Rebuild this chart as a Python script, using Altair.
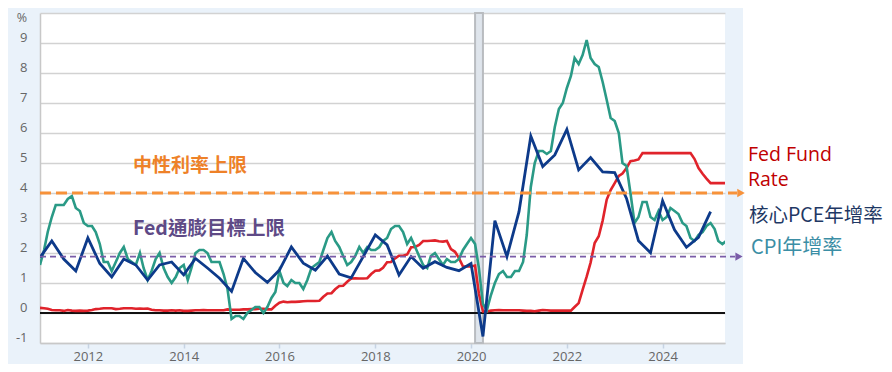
import altair as alt
import pandas as pd

# ---------------- data ----------------
month_start = "2011-01-01"
month_end = "2025-05-01"

cpi_yoy = [
    1.6, 2.1, 2.7, 3.2, 3.6, 3.6, 3.6, 3.8, 3.9, 3.5, 3.4, 3.0,
    2.9, 2.9, 2.7, 2.3, 1.7, 1.7, 1.4, 1.7, 2.0, 2.2, 1.8, 1.7,
    1.6, 2.0, 1.5, 1.1, 1.4, 1.8, 2.0, 1.5, 1.2, 1.0, 1.2, 1.5,
    1.6, 1.1, 1.5, 2.0, 2.1, 2.1, 2.0, 1.7, 1.7, 1.7, 1.3, 0.8,
    -0.2, -0.1, -0.1, -0.2, 0.0, 0.1, 0.2, 0.2, 0.0, 0.2, 0.5, 0.7,
    1.4, 1.0, 0.9, 1.1, 1.0, 1.0, 0.8, 1.1, 1.5, 1.6, 1.7, 2.1,
    2.5, 2.7, 2.4, 2.2, 1.9, 1.6, 1.7, 1.9, 2.2, 2.0, 2.2, 2.1,
    2.1, 2.2, 2.4, 2.5, 2.8, 2.9, 2.9, 2.7, 2.3, 2.5, 2.2, 1.9,
    1.6, 1.5, 1.9, 2.0, 1.8, 1.6, 1.8, 1.7, 1.7, 1.8, 2.1, 2.3,
    2.5, 2.3, 1.5, 0.3, 0.1, 0.6, 1.0, 1.3, 1.4, 1.2, 1.2, 1.4,
    1.4, 1.7, 2.6, 4.2, 5.0, 5.4, 5.4, 5.3, 5.4, 6.2, 6.8, 7.0,
    7.5, 7.9, 8.5, 8.3, 8.6, 9.1, 8.5, 8.3, 8.2, 7.7, 7.1, 6.5,
    6.4, 6.0, 5.0, 4.9, 4.0, 3.0, 3.2, 3.7, 3.7, 3.2, 3.1, 3.4,
    3.1, 3.2, 3.5, 3.4, 3.3, 3.0, 2.9, 2.5, 2.4, 2.6, 2.7, 2.9,
    3.0, 2.8, 2.4, 2.3, 2.4,
]

fed_funds = [
    0.17, 0.16, 0.14, 0.10, 0.09, 0.09, 0.07, 0.10, 0.08, 0.07, 0.08, 0.07,
    0.08, 0.10, 0.13, 0.14, 0.16, 0.16, 0.16, 0.13, 0.14, 0.16, 0.16, 0.16,
    0.14, 0.15, 0.14, 0.15, 0.11, 0.09, 0.09, 0.08, 0.08, 0.09, 0.08, 0.09,
    0.07, 0.07, 0.08, 0.09, 0.09, 0.10, 0.09, 0.09, 0.09, 0.09, 0.09, 0.12,
    0.11, 0.11, 0.11, 0.12, 0.12, 0.13, 0.13, 0.14, 0.14, 0.12, 0.12, 0.24,
    0.34, 0.38, 0.36, 0.37, 0.37, 0.38, 0.39, 0.40, 0.40, 0.40, 0.41, 0.54,
    0.65, 0.66, 0.79, 0.90, 0.91, 1.04, 1.15, 1.16, 1.15, 1.15, 1.16, 1.30,
    1.41, 1.42, 1.51, 1.69, 1.70, 1.82, 1.91, 1.91, 1.95, 2.19, 2.20, 2.27,
    2.40, 2.40, 2.41, 2.42, 2.39, 2.38, 2.40, 2.13, 2.04, 1.83, 1.55, 1.55,
    1.55, 1.58, 0.65, 0.05, 0.05, 0.08, 0.09, 0.10, 0.09, 0.09, 0.09, 0.09,
    0.09, 0.08, 0.07, 0.07, 0.06, 0.08, 0.10, 0.09, 0.08, 0.08, 0.08, 0.08,
    0.08, 0.08, 0.20, 0.33, 0.77, 1.21, 1.68, 2.33, 2.56, 3.08, 3.78, 4.10,
    4.33, 4.57, 4.65, 4.83, 5.06, 5.08, 5.12, 5.33, 5.33, 5.33, 5.33, 5.33,
    5.33, 5.33, 5.33, 5.33, 5.33, 5.33, 5.33, 5.33, 5.13, 4.83, 4.64, 4.48,
    4.33, 4.33, 4.33, 4.33, 4.33,
]

quarter_start = "2011-01-01"
quarter_end = "2025-01-01"
core_pce = [
    1.85, 2.4, 1.8, 1.4,
    2.5, 1.65, 1.2, 1.8,
    1.6, 1.1, 1.6, 1.7,
    1.27, 1.82, 1.5, 1.16,
    0.72, 1.82, 1.35, 1.02,
    1.43, 2.2, 1.66, 1.43,
    1.9, 1.3, 1.17, 1.88,
    2.6, 2.27, 1.27, 1.88,
    1.49, 1.71, 1.52, 1.41,
    1.65, -0.78, 3.08, 1.88,
    3.38, 5.9, 4.88, 5.27,
    6.12, 4.77, 5.18, 4.7,
    4.68, 3.82, 2.41, 2.01,
    3.74, 2.77, 2.19, 2.52,
    3.38,
]

neutral_rate_cap = 4.0
inflation_target_line = 1.88
recession = ["2020-02-01", "2020-04-01"]
year_ticks = [2012, 2014, 2016, 2018, 2020, 2022, 2024]
y_ticks = list(range(-1, 11))

# ---------------- tables ----------------
months = pd.date_range(month_start, month_end, freq="MS").strftime("%Y-%m-%d")
monthly = pd.DataFrame({"date": months, "cpi": cpi_yoy, "ffr": fed_funds})
quarters = pd.date_range(quarter_start, quarter_end, freq="QS").strftime("%Y-%m-%d")
quarterly = pd.DataFrame({"date": quarters, "pce": core_pce})
rec_df = pd.DataFrame({"start": [recession[0]], "end": [recession[1]]})
one = alt.Data(values=[{}])

W, H = 685, 330
BG = "#eaf2fa"

x_scale = alt.Scale(
    type="utc",
    domain=[alt.DateTime(year=2011, month=1, date=1, utc=True),
            alt.DateTime(year=2025, month=4, date=21, utc=True)],
)
y_scale = alt.Scale(domain=[-1, 10], nice=False)

x_axis = alt.Axis(
    values=[alt.DateTime(year=y, month=1, date=1, utc=True) for y in year_ticks],
    format="%Y", formatType="utc", title=None, grid=False,
    labelFont="Open Sans", labelFontSize=13, labelColor="#666666",
    tickColor="#c6d3e3", tickSize=5, tickWidth=1.5, labelPadding=2,
    domainColor="#c8c8c8", domainWidth=1.5,
)
y_axis = alt.Axis(
    values=y_ticks, title=None, grid=True, gridColor="#d2d2d2", gridWidth=1.5,
    labelExpr="datum.value == 10 ? '' : '' + datum.value",
    labelOverlap=False,
    labelFont="Open Sans", labelFontSize=13, labelColor="#666666",
    ticks=False, labelPadding=13, labelOffset=-6,
    domainColor="#c8c8c8", domainWidth=1.5,
)

# white right-hand margin (reference has white beyond the blue panel)
white_margin = alt.Chart(one).mark_rect(color="white").encode(
    x=alt.value(703), x2=alt.value(900), y=alt.value(-20), y2=alt.value(400)
)

band = alt.Chart(rec_df).mark_rect(fill="#dfe5ec", stroke="#b9bcc0", strokeWidth=2).encode(
    x=alt.X("start:T", scale=x_scale, axis=x_axis),
    x2="end:T",
    y=alt.value(0), y2=alt.value(H),
)

zero = alt.Chart(one).mark_rule(color="#111111", strokeWidth=2).encode(
    x=alt.value(0), x2=alt.value(W), y=alt.YDatum(0, scale=y_scale, axis=y_axis)
)

red = alt.Chart(monthly).mark_line(color="#e0232b", strokeWidth=2.6, clip=True).encode(
    x=alt.X("date:T", scale=x_scale, axis=x_axis),
    y=alt.Y("ffr:Q", scale=y_scale, axis=y_axis)
)
teal = alt.Chart(monthly).mark_line(color="#2a9a86", strokeWidth=2.6, clip=True).encode(
    x=alt.X("date:T", scale=x_scale, axis=x_axis),
    y=alt.Y("cpi:Q", scale=y_scale, axis=y_axis)
)
navy = alt.Chart(quarterly).mark_line(color="#0d3a8a", strokeWidth=2.8, clip=True).encode(
    x=alt.X("date:T", scale=x_scale, axis=x_axis),
    y=alt.Y("pce:Q", scale=y_scale, axis=y_axis)
)

orange_line = alt.Chart(one).mark_rule(color="#f7923a", strokeWidth=3, strokeDash=[11, 5]).encode(
    x=alt.value(0), x2=alt.value(697), y=alt.YDatum(neutral_rate_cap, scale=y_scale, axis=y_axis)
)
orange_head = alt.Chart(one).mark_point(shape="triangle-right", filled=True, opacity=1,
                                        color="#f7923a", size=75).encode(
    x=alt.value(701), y=alt.YDatum(neutral_rate_cap, scale=y_scale, axis=y_axis)
)
purple_line = alt.Chart(one).mark_rule(color="#7a5ca8", strokeWidth=1.8, strokeDash=[6, 4]).encode(
    x=alt.value(0), x2=alt.value(695), y=alt.YDatum(inflation_target_line, scale=y_scale, axis=y_axis)
)
purple_head = alt.Chart(one).mark_point(shape="triangle-right", filled=True, opacity=1,
                                        color="#7a5ca8", size=70).encode(
    x=alt.value(699), y=alt.YDatum(inflation_target_line, scale=y_scale, axis=y_axis)
)

def label(text, x, y, color, size, weight="normal", font="Noto Sans CJK TC",
          align="left", line_height=None):
    kw = dict(text=text, align=align, baseline="middle", font=font, fontSize=size,
              fontWeight=weight, color=color)
    if line_height is not None:
        kw["lineHeight"] = line_height
    return alt.Chart(one).mark_text(**kw).encode(x=alt.value(x), y=alt.value(y))

texts = [
    label("中性利率上限", 93, 153, "#ee8128", 19, "bold"),
    label("Fed通膨目標上限", 93, 216, "#5e4a86", 19.5, "bold"),
    label(["Fed Fund", "Rate"], 708, 141.5, "#c00000", 19.5, font="Open Sans", line_height=25),
    label("核心PCE年增率", 709, 203, "#1f3864", 19.5),
    label("CPI年增率", 711, 235, "#3b8ea5", 20),
    label("%", -18, 4.5, "#666666", 12.5, font="Open Sans", align="center"),
]

chart = alt.layer(
    white_margin, band, zero, red, teal, navy,
    orange_line, orange_head, purple_line, purple_head, *texts,
).properties(
    width=W, height=H,
    padding={"left": 32, "top": 5, "right": 159, "bottom": 21},
    autosize=alt.AutoSizeParams(type="none"),
    background=BG,
).configure_view(fill="white", stroke=None)

chart.save("out.html", embed_options={"renderer": "svg", "actions": False})
